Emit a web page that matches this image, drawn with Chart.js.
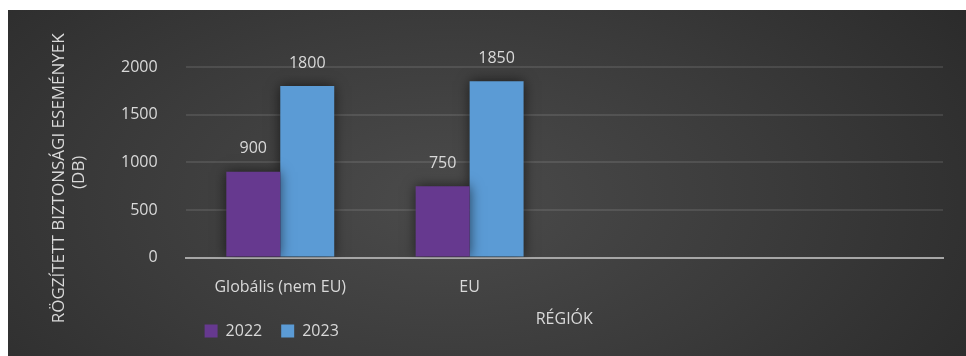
<!DOCTYPE html>
<html>
<head>
<meta charset="utf-8">
<script src="https://cdn.jsdelivr.net/npm/chart.js@4.4.1/dist/chart.umd.min.js"></script>
<style>
  body { margin: 0; background: #fff; }
  #wrap {
    position: absolute; left: 8px; top: 10px; width: 958px; height: 346px;
    background: radial-gradient(ellipse 75% 115% at 46% 55%, #4b4b4b 0%, #3b3b3b 45%, #262626 100%);
  }
</style>
</head>
<body>
<div id="wrap"><canvas id="myChart" width="958" height="346"></canvas></div>
<script>
let regions = ['Globális (nem EU)', 'EU', '', ''];
let values2022 = [900, 750, null, null];
let values2023 = [1800, 1850, null, null];
let yTicks = [0, 500, 1000, 1500, 2000];
let seriesNames = ['2022', '2023'];
let seriesColors = ['#66398f', '#5b9bd5'];
let yTitle = ['RÖGZÍTETT BIZTONSÁGI ESEMÉNYEK', '(DB)'];

let textColor = '#d9d9d9';
let baseFont = { family: "'Open Sans', sans-serif", size: 16 };

// soft dark glow behind the bars
const barShadow = {
    id: 'barShadow',
    beforeDatasetsDraw(chart) {
        chart.ctx.save();
        chart.ctx.shadowColor = 'rgba(0,0,0,0.6)';
        chart.ctx.shadowBlur = 12;
    },
    afterDatasetsDraw(chart) {
        chart.ctx.restore();
    }
};

// value labels above each bar
const valueLabels = {
    id: 'valueLabels',
    afterDatasetsDraw(chart) {
        let ctx = chart.ctx;
        ctx.save();
        ctx.fillStyle = textColor;
        ctx.font = "16px 'Open Sans', sans-serif";
        ctx.textAlign = 'center';
        ctx.textBaseline = 'middle';
        chart.data.datasets.forEach((ds, i) => {
            chart.getDatasetMeta(i).data.forEach((bar, j) => {
                if (ds.data[j] == null) return;
                ctx.fillText(ds.data[j], bar.x, bar.y - 23);
            });
        });
        ctx.restore();
    }
};

// rotated two-line y axis title, placed left of the tick labels
const yAxisTitle = {
    id: 'yAxisTitle',
    afterDraw(chart) {
        let ctx = chart.ctx;
        let area = chart.chartArea;
        ctx.save();
        ctx.fillStyle = textColor;
        ctx.font = "17px 'Open Sans', sans-serif";
        ctx.textAlign = 'center';
        ctx.textBaseline = 'middle';
        ctx.translate(51, (area.top + area.bottom) / 2 + 16);
        ctx.rotate(-Math.PI / 2);
        yTitle.forEach((line, i) => ctx.fillText(line, i === 0 ? 0 : 6, i * 20));
        ctx.restore();
    }
};

let ctx1 = document.getElementById('myChart').getContext('2d');
let myChart = new Chart(ctx1, {
    type: 'bar',
    data: {
        labels: regions,
        datasets: [{
            label: seriesNames[0],
            data: values2022,
            backgroundColor: seriesColors[0],
            categoryPercentage: 0.57,
            barPercentage: 1
        }, {
            label: seriesNames[1],
            data: values2023,
            backgroundColor: seriesColors[1],
            categoryPercentage: 0.57,
            barPercentage: 1
        }]
    },
    options: {
        responsive: false,
        animation: false,
        devicePixelRatio: 1,
        layout: {
            padding: { left: 85, right: 23, top: 57, bottom: 7 }
        },
        scales: {
            x: {
                grid: { display: false },
                border: { color: '#a6a6a6', width: 2 },
                ticks: { color: textColor, font: baseFont, padding: 12, maxRotation: 0, autoSkip: false },
                title: {
                    display: true,
                    text: 'RÉGIÓK',
                    color: textColor,
                    font: baseFont,
                    padding: { top: 1, bottom: -25 }
                }
            },
            y: {
                min: 0,
                max: 2000,
                afterBuildTicks: axis => { axis.ticks = yTicks.map(v => ({ value: v })); },
                grid: {
                    color: c => c.tick && c.tick.value === 0 ? 'rgba(0,0,0,0)' : 'rgba(255,255,255,0.10)',
                    lineWidth: 2,
                    drawTicks: false
                },
                border: { display: false },
                ticks: { color: textColor, font: baseFont, padding: 28, callback: v => String(v) }
            }
        },
        plugins: {
            legend: {
                position: 'bottom',
                align: 'start',
                fullSize: false,
                labels: {
                    color: textColor,
                    font: baseFont,
                    boxWidth: 13,
                    boxHeight: 13,
                    padding: 19
                }
            },
            tooltip: { enabled: false }
        }
    },
    plugins: [barShadow, valueLabels, yAxisTitle]
});
</script>
</body>
</html>
